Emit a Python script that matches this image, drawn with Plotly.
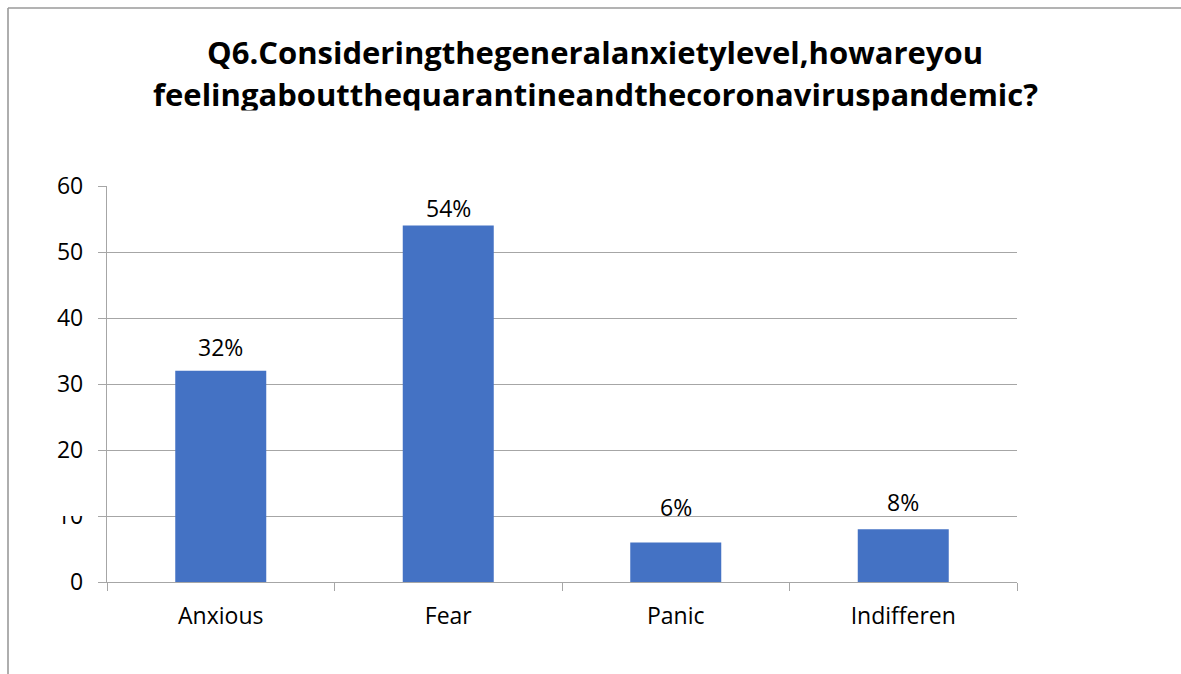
import plotly.graph_objects as go

# Survey responses (percent of respondents)
categories = ["Anxious", "Fear", "Panic", "Indifferen"]
values = [32, 54, 6, 8]
value_labels = ["32%", "54%", "6%", "8%"]
y_ticks = [0, 10, 20, 30, 40, 50, 60]

title_lines = [
    "Q6.Consideringthegeneralanxietylevel,howareyou",
    "feelingaboutthequarantineandthecoronaviruspandemic?",
]

# Label lift above each bar, in pixels
label_lift = [6, 0, 17, 9]

W, H = 1181, 674
M_L, M_R, M_T, M_B = 107, 164, 186, 92
PW, PH = W - M_L - M_R, H - M_T - M_B


def px_x(px):
    return (px - M_L) / PW


def px_y(py):
    return (H - M_B - py) / PH


FONT = "Open Sans"
GRID = "#a6a6a6"
BAR = "#4472C4"
LABEL_SIZE = 23
TITLE_SIZE = 31

fig = go.Figure(
    go.Bar(
        x=categories,
        y=values,
        marker=dict(color=BAR, line=dict(width=0)),
        width=0.4,
        hoverinfo="skip",
    )
)

annotations = []
for cat, val, lab, lift in zip(categories, values, value_labels, label_lift):
    annotations.append(
        dict(
            x=cat, y=val, xref="x", yref="y", text=lab, showarrow=False,
            yanchor="bottom", yshift=lift,
            font=dict(family=FONT, size=LABEL_SIZE, color="#000000"),
        )
    )

# Two-line chart title
for line, base in zip(title_lines, [64, 106]):
    annotations.append(
        dict(
            x=px_x(595), y=px_y(base - 0.388 * TITLE_SIZE), xref="paper", yref="paper",
            text="<b>" + line + "</b>", showarrow=False,
            xanchor="center", yanchor="middle",
            font=dict(family=FONT, size=TITLE_SIZE, color="#000000"),
        )
    )

# White band trimming the lower edge of the title block
annotations.append(
    dict(
        x=px_x(595), y=px_y(110), xref="paper", yref="paper",
        text=" ", showarrow=False, xanchor="center", yanchor="top",
        width=1100, height=30, bgcolor="#ffffff", borderpad=0,
        font=dict(size=4),
    )
)

shapes = [
    # outer frame: top and left edges
    dict(type="line", xref="paper", yref="paper",
         x0=px_x(8), x1=px_x(W + 5), y0=px_y(8), y1=px_y(8),
         line=dict(color="#9a9a9a", width=1.6), layer="above"),
    dict(type="line", xref="paper", yref="paper",
         x0=px_x(8), x1=px_x(8), y0=px_y(8), y1=px_y(H + 5),
         line=dict(color="#9a9a9a", width=1.6), layer="above"),
    # trims the top of the "10" tick label
    dict(type="rect", xref="paper", yref="y",
         x0=px_x(40), x1=px_x(97), y0=10, y1=11.8,
         fillcolor="#ffffff", line=dict(width=0), layer="above"),
]

fig.update_layout(
    width=W, height=H,
    margin=dict(l=M_L, r=M_R, t=M_T, b=M_B, pad=0),
    paper_bgcolor="#ffffff", plot_bgcolor="#ffffff",
    showlegend=False,
    bargap=0.6,
    annotations=annotations,
    shapes=shapes,
    font=dict(family=FONT, size=LABEL_SIZE, color="#000000"),
    xaxis=dict(
        showline=True, linecolor=GRID, linewidth=1.3,
        ticks="outside", tickson="boundaries", ticklen=8,
        tickcolor=GRID, tickwidth=1.3,
        showgrid=False, ticklabelstandoff=13,
        tickfont=dict(family=FONT, size=LABEL_SIZE, color="#000000"),
        fixedrange=True,
    ),
    yaxis=dict(
        range=[0, 60], tickvals=y_ticks,
        showline=True, linecolor=GRID, linewidth=1.3,
        ticks="outside", ticklen=8, tickcolor=GRID, tickwidth=1.3,
        showgrid=True, gridcolor=GRID, gridwidth=1.3,
        zeroline=False, ticklabelstandoff=10,
        tickfont=dict(family=FONT, size=LABEL_SIZE, color="#000000"),
        fixedrange=True,
    ),
)

fig.write_html("out.html", config=dict(displayModeBar=False))
